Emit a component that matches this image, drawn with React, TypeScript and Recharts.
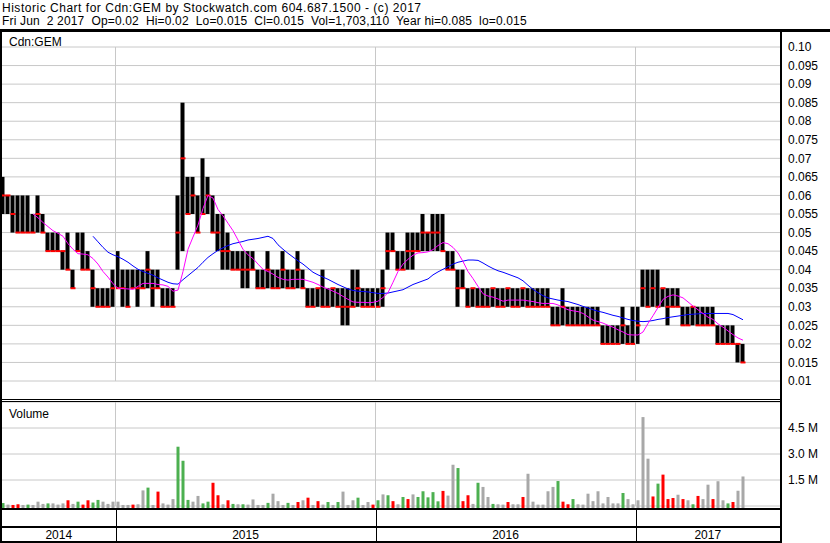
import { Bar, CartesianGrid, ComposedChart, Line, ReferenceLine, XAxis, YAxis } from "recharts";

// weekly bars, 2014-07 .. 2017-06-02
const years = ["2014", "2015", "2016", "2017"];
const weeksPerYear = [23, 52, 52, 22];

const highs = [
  0.065, 0.06, 0.06, 0.06, 0.06, 0.06, 0.055, 0.06, 0.055, 0.05,
  0.05, 0.05, 0.045, 0.05, 0.04, 0.05, 0.05, 0.045, 0.04, 0.035,
  0.035, 0.035, 0.04, 0.045, 0.04, 0.04, 0.04, 0.04, 0.04, 0.045,
  0.04, 0.04, 0.035, 0.035, 0.035, 0.06, 0.085, 0.065, 0.065, 0.06,
  0.07, 0.065, 0.06, 0.055, 0.055, 0.05, 0.045, 0.045, 0.045, 0.045,
  0.045, 0.04, 0.04, 0.045, 0.04, 0.04, 0.045, 0.04, 0.04, 0.045,
  0.04, 0.035, 0.035, 0.035, 0.04, 0.035, 0.035, 0.035, 0.035, 0.035,
  0.04, 0.04, 0.035, 0.035, 0.035, 0.035, 0.04, 0.05, 0.05, 0.045,
  0.045, 0.05, 0.05, 0.05, 0.055, 0.05, 0.055, 0.055, 0.055, 0.045,
  0.045, 0.04, 0.04, 0.035, 0.035, 0.035, 0.035, 0.035, 0.035, 0.035,
  0.035, 0.035, 0.035, 0.035, 0.035, 0.035, 0.035, 0.035, 0.035, 0.035,
  0.03, 0.03, 0.035, 0.03, 0.03, 0.03, 0.03, 0.03, 0.03, 0.03,
  0.025, 0.025, 0.025, 0.025, 0.03, 0.025, 0.03, 0.03, 0.04, 0.04,
  0.04, 0.04, 0.035, 0.035, 0.035, 0.035, 0.03, 0.03, 0.03, 0.03,
  0.03, 0.03, 0.03, 0.025, 0.025, 0.025, 0.025, 0.02, 0.02,
];

const lows = [
  0.055, 0.055, 0.05, 0.05, 0.05, 0.05, 0.05, 0.05, 0.05, 0.045,
  0.045, 0.045, 0.04, 0.04, 0.035, 0.045, 0.04, 0.04, 0.03, 0.03,
  0.03, 0.03, 0.03, 0.035, 0.03, 0.03, 0.035, 0.03, 0.035, 0.035,
  0.03, 0.035, 0.03, 0.03, 0.03, 0.04, 0.045, 0.055, 0.055, 0.05,
  0.055, 0.055, 0.05, 0.045, 0.04, 0.04, 0.04, 0.04, 0.035, 0.035,
  0.04, 0.035, 0.035, 0.035, 0.035, 0.035, 0.035, 0.035, 0.035, 0.035,
  0.035, 0.03, 0.03, 0.03, 0.03, 0.03, 0.03, 0.03, 0.025, 0.025,
  0.03, 0.03, 0.03, 0.03, 0.03, 0.03, 0.03, 0.04, 0.045, 0.04,
  0.04, 0.04, 0.04, 0.045, 0.045, 0.045, 0.045, 0.045, 0.045, 0.04,
  0.04, 0.03, 0.035, 0.03, 0.03, 0.03, 0.03, 0.03, 0.03, 0.03,
  0.03, 0.03, 0.03, 0.03, 0.03, 0.03, 0.03, 0.03, 0.03, 0.03,
  0.025, 0.025, 0.025, 0.025, 0.025, 0.025, 0.025, 0.025, 0.025, 0.025,
  0.02, 0.02, 0.02, 0.02, 0.02, 0.02, 0.02, 0.02, 0.03, 0.03,
  0.03, 0.03, 0.03, 0.025, 0.03, 0.03, 0.025, 0.025, 0.025, 0.025,
  0.025, 0.025, 0.025, 0.02, 0.02, 0.02, 0.02, 0.015, 0.015,
];

const closes = [
  0.06, 0.06, 0.055, 0.05, 0.05, 0.05, 0.05, 0.055, 0.05, 0.045,
  0.045, 0.045, 0.045, 0.04, 0.035, 0.045, 0.04, 0.04, 0.035, 0.03,
  0.03, 0.03, 0.035, 0.035, 0.035, 0.03, 0.035, 0.035, 0.035, 0.04,
  0.035, 0.035, 0.03, 0.03, 0.03, 0.05, 0.07, 0.055, 0.06, 0.05,
  0.055, 0.06, 0.05, 0.05, 0.045, 0.045, 0.04, 0.04, 0.04, 0.04,
  0.04, 0.035, 0.035, 0.04, 0.035, 0.035, 0.04, 0.035, 0.035, 0.04,
  0.035, 0.03, 0.03, 0.035, 0.03, 0.03, 0.035, 0.03, 0.03, 0.03,
  0.03, 0.035, 0.03, 0.03, 0.03, 0.03, 0.035, 0.045, 0.045, 0.04,
  0.04, 0.045, 0.045, 0.045, 0.05, 0.05, 0.05, 0.05, 0.045, 0.04,
  0.04, 0.035, 0.035, 0.03, 0.035, 0.03, 0.03, 0.03, 0.035, 0.03,
  0.03, 0.035, 0.03, 0.03, 0.035, 0.03, 0.03, 0.03, 0.03, 0.03,
  0.025, 0.025, 0.03, 0.025, 0.025, 0.025, 0.025, 0.025, 0.025, 0.025,
  0.02, 0.02, 0.02, 0.02, 0.025, 0.02, 0.02, 0.025, 0.035, 0.03,
  0.035, 0.03, 0.035, 0.03, 0.03, 0.03, 0.025, 0.025, 0.03, 0.025,
  0.025, 0.025, 0.025, 0.02, 0.02, 0.02, 0.02, 0.02, 0.015,
];

// short moving average (magenta)
const maShort = [
  null, null, null, null, null, null, 0.055, 0.054, 0.0527, 0.0516,
  0.0505, 0.0498, 0.049, 0.047, 0.0455, 0.0443, 0.0442, 0.044, 0.043, 0.0415,
  0.0395, 0.038, 0.0362, 0.035, 0.0349, 0.0348, 0.0347, 0.0355, 0.0363, 0.0363,
  0.0363, 0.036, 0.0359, 0.0355, 0.0342, 0.0345, 0.0395, 0.0455, 0.0488, 0.052,
  0.0565, 0.06, 0.0593, 0.0562, 0.0545, 0.0525, 0.0505, 0.048, 0.0455, 0.044,
  0.043, 0.0415, 0.0401, 0.0395, 0.0388, 0.0379, 0.0374, 0.0372, 0.0374, 0.0374,
  0.0374, 0.037, 0.0366, 0.036, 0.0353, 0.0348, 0.0342, 0.0336, 0.0328, 0.032,
  0.0313, 0.0312, 0.0312, 0.0311, 0.0312, 0.0315, 0.0325, 0.0338, 0.0366, 0.0395,
  0.0415, 0.0428, 0.0439, 0.0445, 0.0446, 0.0448, 0.0454, 0.0465, 0.0473, 0.047,
  0.046, 0.0445, 0.0422, 0.0395, 0.0376, 0.0355, 0.0335, 0.0329, 0.0326, 0.0321,
  0.0315, 0.0318, 0.0318, 0.0318, 0.0318, 0.0316, 0.0314, 0.0311, 0.0309, 0.0309,
  0.0309, 0.0305, 0.0298, 0.0292, 0.0289, 0.0287, 0.0282, 0.0273, 0.0264, 0.026,
  0.0256, 0.025, 0.0245, 0.0238, 0.0232, 0.0225, 0.0224, 0.0224, 0.0232, 0.0255,
  0.0276, 0.0298, 0.032, 0.0328, 0.0332, 0.0329, 0.0324, 0.0313, 0.0302, 0.0292,
  0.0282, 0.0272, 0.0266, 0.0254, 0.0245, 0.0235, 0.0225, 0.0216, 0.021,
];

// long moving average (blue)
const maLong = [
  null, null, null, null, null, null, null, null, null, null,
  null, null, null, null, null, null, null, null, 0.049, 0.0475,
  0.046, 0.0447, 0.044, 0.0435, 0.0428, 0.042, 0.041, 0.0401, 0.0395, 0.039,
  0.0385, 0.0378, 0.0372, 0.0366, 0.0362, 0.0361, 0.0373, 0.0384, 0.0395, 0.0406,
  0.042, 0.0433, 0.0443, 0.0452, 0.0459, 0.0465, 0.047, 0.0473, 0.0476, 0.048,
  0.0482, 0.0484, 0.0487, 0.049, 0.0484, 0.0467, 0.0455, 0.0444, 0.0434, 0.0424,
  0.0415, 0.0404, 0.0393, 0.0386, 0.038, 0.0374, 0.0367, 0.036, 0.0354, 0.0348,
  0.0344, 0.0342, 0.0341, 0.034, 0.0338, 0.0336, 0.0336, 0.0337, 0.034, 0.0343,
  0.0346, 0.0353, 0.036, 0.0365, 0.037, 0.0375, 0.0386, 0.0394, 0.0401, 0.0408,
  0.0415, 0.042, 0.0423, 0.0426, 0.0426, 0.0425, 0.0418, 0.041, 0.0403, 0.0397,
  0.0393, 0.0388, 0.0383, 0.0378, 0.037, 0.0358, 0.0347, 0.0338, 0.033, 0.0324,
  0.0321, 0.0318, 0.0316, 0.0314, 0.031, 0.0306, 0.0301, 0.0297, 0.0292, 0.0288,
  0.0285, 0.0281, 0.0277, 0.0274, 0.027, 0.0266, 0.0263, 0.0261, 0.026, 0.0261,
  0.0263, 0.0266, 0.0268, 0.0271, 0.0273, 0.0275, 0.0277, 0.0279, 0.028, 0.0281,
  0.0282, 0.0282, 0.0282, 0.0282, 0.0282, 0.0282, 0.0279, 0.0272, 0.0265,
];

// peak daily volume in each week, thousands of shares
const volumeK = [
  170, 80, 60, 100, 60, 80, 60, 250, 120, 150,
  150, 80, 150, 330, 120, 250, 80, 330, 200, 350,
  250, 120, 250, 250, 60, 60, 80, 100, 900, 1060,
  60, 830, 150, 80, 400, 3420, 2610, 350, 250, 580,
  150, 250, 1340, 620, 100, 330, 120, 100, 100, 80,
  380, 60, 60, 180, 710, 280, 60, 180, 60, 230,
  330, 480, 60, 280, 80, 230, 60, 230, 830, 60,
  330, 480, 60, 230, 80, 330, 670, 620, 280, 100,
  520, 400, 670, 520, 850, 500, 800, 270, 870, 600,
  2380, 2190, 280, 620, 120, 1340, 1100, 520, 120, 100,
  80, 230, 100, 100, 520, 1860, 250, 80, 80, 850,
  1100, 1440, 250, 100, 400, 100, 80, 710, 280, 850,
  150, 520, 150, 150, 750, 400, 100, 330, 5130, 2730,
  550, 1290, 1810, 400, 460, 650, 400, 330, 100, 580,
  400, 1230, 400, 1430, 330, 150, 230, 880, 1703,
];

// u = up day, d = down day, n = unchanged
const volumeMoves = [
  "unddnunnnu", "nnndnudduu", "nnnnnndnnu", "ndnnnuuunn", "uuddndunun",
  "nnnunnnund", "ndndnununn", "nunndunudn", "udnuuuuudn", "nuddnunnun",
  "ndnndnnnnn", "nuddunnnnn", "nnnnunnnnn", "dudddndnud", "nndnnudn",
].join("");

const priceTicks = [
  0.01, 0.015, 0.02, 0.025, 0.03, 0.035, 0.04, 0.045, 0.05, 0.055,
  0.06, 0.065, 0.07, 0.075, 0.08, 0.085, 0.09, 0.095, 0.1,
];
const volumeTicks = [1500000, 3000000, 4500000];

const rows = highs.map((high, i) => ({
  i,
  range: [lows[i], high],
  high,
  low: lows[i],
  close: closes[i],
  maShort: maShort[i],
  maLong: maLong[i],
  volume: volumeK[i] * 1000,
  move: volumeMoves[i] ?? "n",
}));

const W = 830;
const H = 543;
const PLOT_LEFT = 2;
const PLOT_RIGHT = 780;
const X_DOMAIN: [number, number] = [-0.2, 155.4];
const FONT = "'Liberation Sans', Arial, sans-serif";

const xPixel = (i: number) =>
  PLOT_LEFT + ((i - X_DOMAIN[0]) / (X_DOMAIN[1] - X_DOMAIN[0])) * (PLOT_RIGHT - PLOT_LEFT);

// bar index where each calendar year begins
const yearStarts = weeksPerYear.map((_, k) => weeksPerYear.slice(0, k).reduce((a, b) => a + b, 0));
const yearEdges = yearStarts.slice(1).map((s) => s - 0.5);

function HlcBar(props: any) {
  const { x, y, width, height, payload } = props;
  if (x == null || y == null) return null;
  const top = Math.min(y, y + height);
  const h = Math.max(Math.abs(height), 1);
  const { high, low, close } = payload;
  const cy = high === low ? top : top + ((high - close) / (high - low)) * h;
  return (
    <g>
      <rect x={x} y={top} width={width} height={h} fill="#000" />
      <rect x={x} y={cy - 1} width={width + 1} height={2} fill="#ff0000" />
    </g>
  );
}

function VolumeBar(props: any) {
  const { x, y, width, height, payload } = props;
  if (x == null || y == null) return null;
  const fill = payload.move === "u" ? "#4cb050" : payload.move === "d" ? "#ff0000" : "#a8a8a8";
  return <rect x={x} y={y} width={width} height={Math.max(height, 0) + 2} fill={fill} />;
}

const tickStyle = { fontSize: 12, fill: "#000", fontFamily: FONT };

export default function App() {
  return (
    <div style={{ position: "relative", width: W, height: H, background: "#fff", fontFamily: FONT }}>
      <style>{"body{margin:0}"}</style>

      <div style={{ position: "absolute", left: 0, top: 0 }}>
        <ComposedChart width={W} height={H} data={rows} margin={{ top: 47, right: 0, bottom: H - 381, left: PLOT_LEFT }}>
          <CartesianGrid vertical={false} stroke="#c8c8c8" />
          <XAxis type="number" dataKey="i" domain={X_DOMAIN} allowDataOverflow hide />
          <YAxis
            orientation="right"
            width={W - PLOT_RIGHT}
            domain={[0.01, 0.1]}
            ticks={priceTicks}
            interval={0}
            axisLine={false}
            tickLine={false}
            tick={tickStyle}
            tickFormatter={(v: number) => (v === 0.1 ? "0.10" : String(+v.toFixed(3)))}
          />
          {yearEdges.map((e) => (
            <ReferenceLine key={e} x={e} stroke="#c8c8c8" />
          ))}
          <Bar dataKey="range" barSize={4} shape={<HlcBar />} isAnimationActive={false} />
          <Line dataKey="maLong" stroke="#0000ff" strokeWidth={1} dot={false} isAnimationActive={false} />
          <Line dataKey="maShort" stroke="#ff00ff" strokeWidth={1} dot={false} isAnimationActive={false} />
        </ComposedChart>
      </div>

      <div style={{ position: "absolute", left: 0, top: 0 }}>
        <ComposedChart width={W} height={H} data={rows} margin={{ top: 402, right: 0, bottom: H - 506, left: PLOT_LEFT }}>
          <CartesianGrid vertical={false} stroke="#c8c8c8" />
          <XAxis type="number" dataKey="i" domain={X_DOMAIN} allowDataOverflow hide />
          <YAxis
            orientation="right"
            width={W - PLOT_RIGHT}
            domain={[0, 6000000]}
            ticks={volumeTicks}
            interval={0}
            axisLine={false}
            tickLine={false}
            tick={tickStyle}
            tickFormatter={(v: number) => `${(v / 1e6).toFixed(1)} M`}
          />
          {yearEdges.map((e) => (
            <ReferenceLine key={e} x={e} stroke="#c8c8c8" />
          ))}
          <Bar dataKey="volume" barSize={3} shape={<VolumeBar />} isAnimationActive={false} />
        </ComposedChart>
      </div>

      <svg width={W} height={H} style={{ position: "absolute", left: 0, top: 0, pointerEvents: "none" }}>
        <g fontFamily={FONT} fontSize={12} fill="#000">
          <text x={2} y={11.5} style={{ letterSpacing: "0.52px" }}>
            Historic Chart for Cdn:GEM by Stockwatch.com 604.687.1500 - (c) 2017
          </text>
          <text x={2} y={24.5} style={{ whiteSpace: "pre", letterSpacing: "0.16px" }}>
            {"Fri Jun  2 2017  Op=0.02  Hi=0.02  Lo=0.015  Cl=0.015  Vol=1,703,110  Year hi=0.085  lo=0.015"}
          </text>
          <text x={9} y={46}>Cdn:GEM</text>
          <text x={9} y={418}>Volume</text>
        </g>
        {/* frame */}
        <rect x={0} y={29} width={W} height={3} fill="#000" />
        <rect x={0} y={29} width={2} height={H - 29} fill="#000" />
        <rect x={PLOT_RIGHT} y={29} width={2} height={H - 29} fill="#000" />
        <rect x={0} y={399} width={PLOT_RIGHT} height={1} fill="#000" />
        <rect x={0} y={401} width={PLOT_RIGHT} height={1} fill="#000" />
        <rect x={0} y={508} width={PLOT_RIGHT} height={2} fill="#000" />
        <rect x={0} y={526} width={PLOT_RIGHT} height={2} fill="#000" />
        <rect x={0} y={541} width={PLOT_RIGHT} height={2} fill="#000" />
        {yearEdges.map((e) => (
          <rect key={e} x={Math.round(xPixel(e))} y={509} width={1} height={33} fill="#000" />
        ))}
        {years.map((yr, k) => {
          const left = k === 0 ? PLOT_LEFT : xPixel(yearEdges[k - 1]);
          const right = k === years.length - 1 ? PLOT_RIGHT : xPixel(yearEdges[k]);
          return (
            <text key={yr} x={(left + right) / 2} y={539} textAnchor="middle" fontFamily={FONT} fontSize={12} fill="#000">
              {yr}
            </text>
          );
        })}
      </svg>
    </div>
  );
}
